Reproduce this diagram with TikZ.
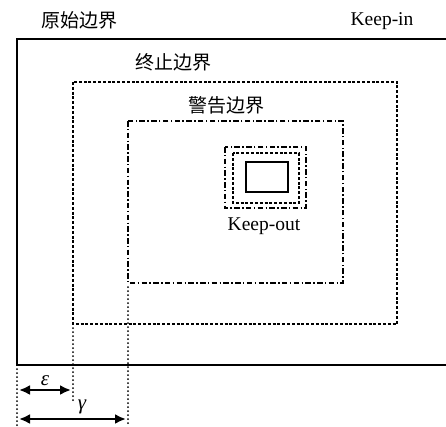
\documentclass[tikz,border=0pt]{standalone}
\usepackage{fontspec}
\setmainfont{Liberation Serif}
\newfontfamily\cjk{Noto Sans CJK SC}
\usetikzlibrary{arrows.meta}
\begin{document}
\begin{tikzpicture}[x=1pt,y=-1pt,
  lbl/.style={inner sep=0pt,font=\fontsize{19.5}{22}\selectfont},
  cjklbl/.style={inner sep=0pt,font=\fontsize{19}{22}\selectfont\cjk},
  mathlbl/.style={inner sep=0pt,font=\fontsize{21}{23}\selectfont\itshape},
  solidline/.style={line width=2.6pt},
  stopline/.style={line width=2.2pt,dash pattern=on 3pt off 1.8pt},
  warnline/.style={line width=2.2pt,dash pattern=on 5.5pt off 2.4pt on 1.4pt off 2.4pt},
  extline/.style={line width=2pt,line cap=round,dash pattern=on 0pt off 4pt},
  dimarrow/.style={line width=2.4pt,{Latex[length=11pt,width=10pt]}-{Latex[length=11pt,width=10pt]}}]
\useasboundingbox (0,0) rectangle (446,426);
% labels
\node[cjklbl] (orig) at (79,20) {原始边界};
\node[lbl] (keepin) at (382,21) {Keep-in};
\node[cjklbl] (stop) at (173,62) {终止边界};
\node[cjklbl] (warn) at (226,105) {警告边界};
\node[lbl] (keepout) at (264,226) {Keep-out};
% original boundary
\draw[solidline] (446,39) -- (17,39) -- (17,365) -- (446,365);
% stop boundary
\draw[stopline] (73,82) rectangle (397,324);
% warning boundary
\draw[warnline] (128,121) rectangle (343,283);
% keep-out obstacle
\draw[warnline] (225,147) rectangle (306,208);
\draw[stopline] (233,153) rectangle (299,203);
\draw[line width=2.2pt] (246,162) rectangle (288,192);
% extension lines
\coordinate (a0) at (17,369);
\coordinate (a1) at (17,426);
\coordinate (b0) at (73,328);
\coordinate (b1) at (73,400);
\coordinate (c0) at (128,287);
\coordinate (c1) at (128,426);
\draw[extline] (a0) -- (a1);
\draw[extline] (b0) -- (b1);
\draw[extline] (c0) -- (c1);
% dimension arrows
\coordinate (e0) at (19,390);
\coordinate (e1) at (71,390);
\coordinate (g0) at (19,419);
\coordinate (g1) at (126,419);
\draw[dimarrow] (e0) -- (e1);
\draw[dimarrow] (g0) -- (g1);
\node[mathlbl] (eps) at (45,381) {ε};
\node[mathlbl] (gam) at (82,407) {γ};
\end{tikzpicture}
\end{document}
